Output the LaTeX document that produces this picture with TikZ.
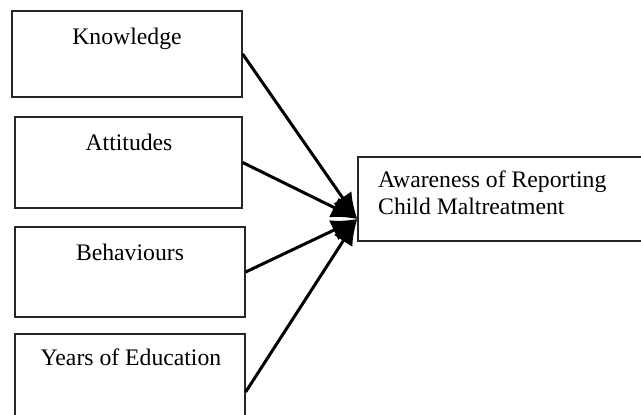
\documentclass[tikz,border=0pt]{standalone}
\usepackage{fontspec}
\setmainfont{Liberation Serif}
\usetikzlibrary{arrows.meta}
\begin{document}
\begin{tikzpicture}[x=1pt,y=-1pt,
  box/.style={draw=black!85,line width=1.3pt,inner sep=0pt,fill=none},
  lbl/.style={anchor=base,font=\fontsize{23.7}{27}\selectfont,inner sep=0pt},
  arr/.style={line width=3pt,-{Latex[length=26pt,width=22pt]}}]
\useasboundingbox (0,0) rectangle (641,415);
\clip (0,0) rectangle (641,415);
% predictor boxes
\node[box,minimum width=230pt,minimum height=86pt] (k) at (127,54) {};
\node[box,minimum width=227pt,minimum height=91pt] (a) at (128.5,162.5) {};
\node[box,minimum width=230pt,minimum height=90pt] (b) at (130,272) {};
\node[box,minimum width=230pt,minimum height=116pt] (y) at (130,392) {};
% outcome box
\node[box,minimum width=360pt,minimum height=84pt] (aw) at (538,199) {};
% labels
\node[lbl] (kt) at (127,44) {Knowledge};
\node[lbl] (at) at (129,150) {Attitudes};
\node[lbl] (bt) at (130,260) {Behaviours};
\node[lbl] (yt) at (131,365) {Years of Education};
\node[lbl,anchor=north west,align=left,font=\fontsize{23.7}{27}\selectfont] (awt) at (378,171)
  {Awareness of Reporting\\Child Maltreatment};
% arrows
\coordinate (tip) at ([yshift=-20pt]aw.west);
\draw[arr] (k.east) -- (tip);
\draw[arr] (a.east) -- (tip);
\draw[arr] (b.east) -- (tip);
\draw[arr] (y.east) -- (tip);
\end{tikzpicture}
\end{document}
